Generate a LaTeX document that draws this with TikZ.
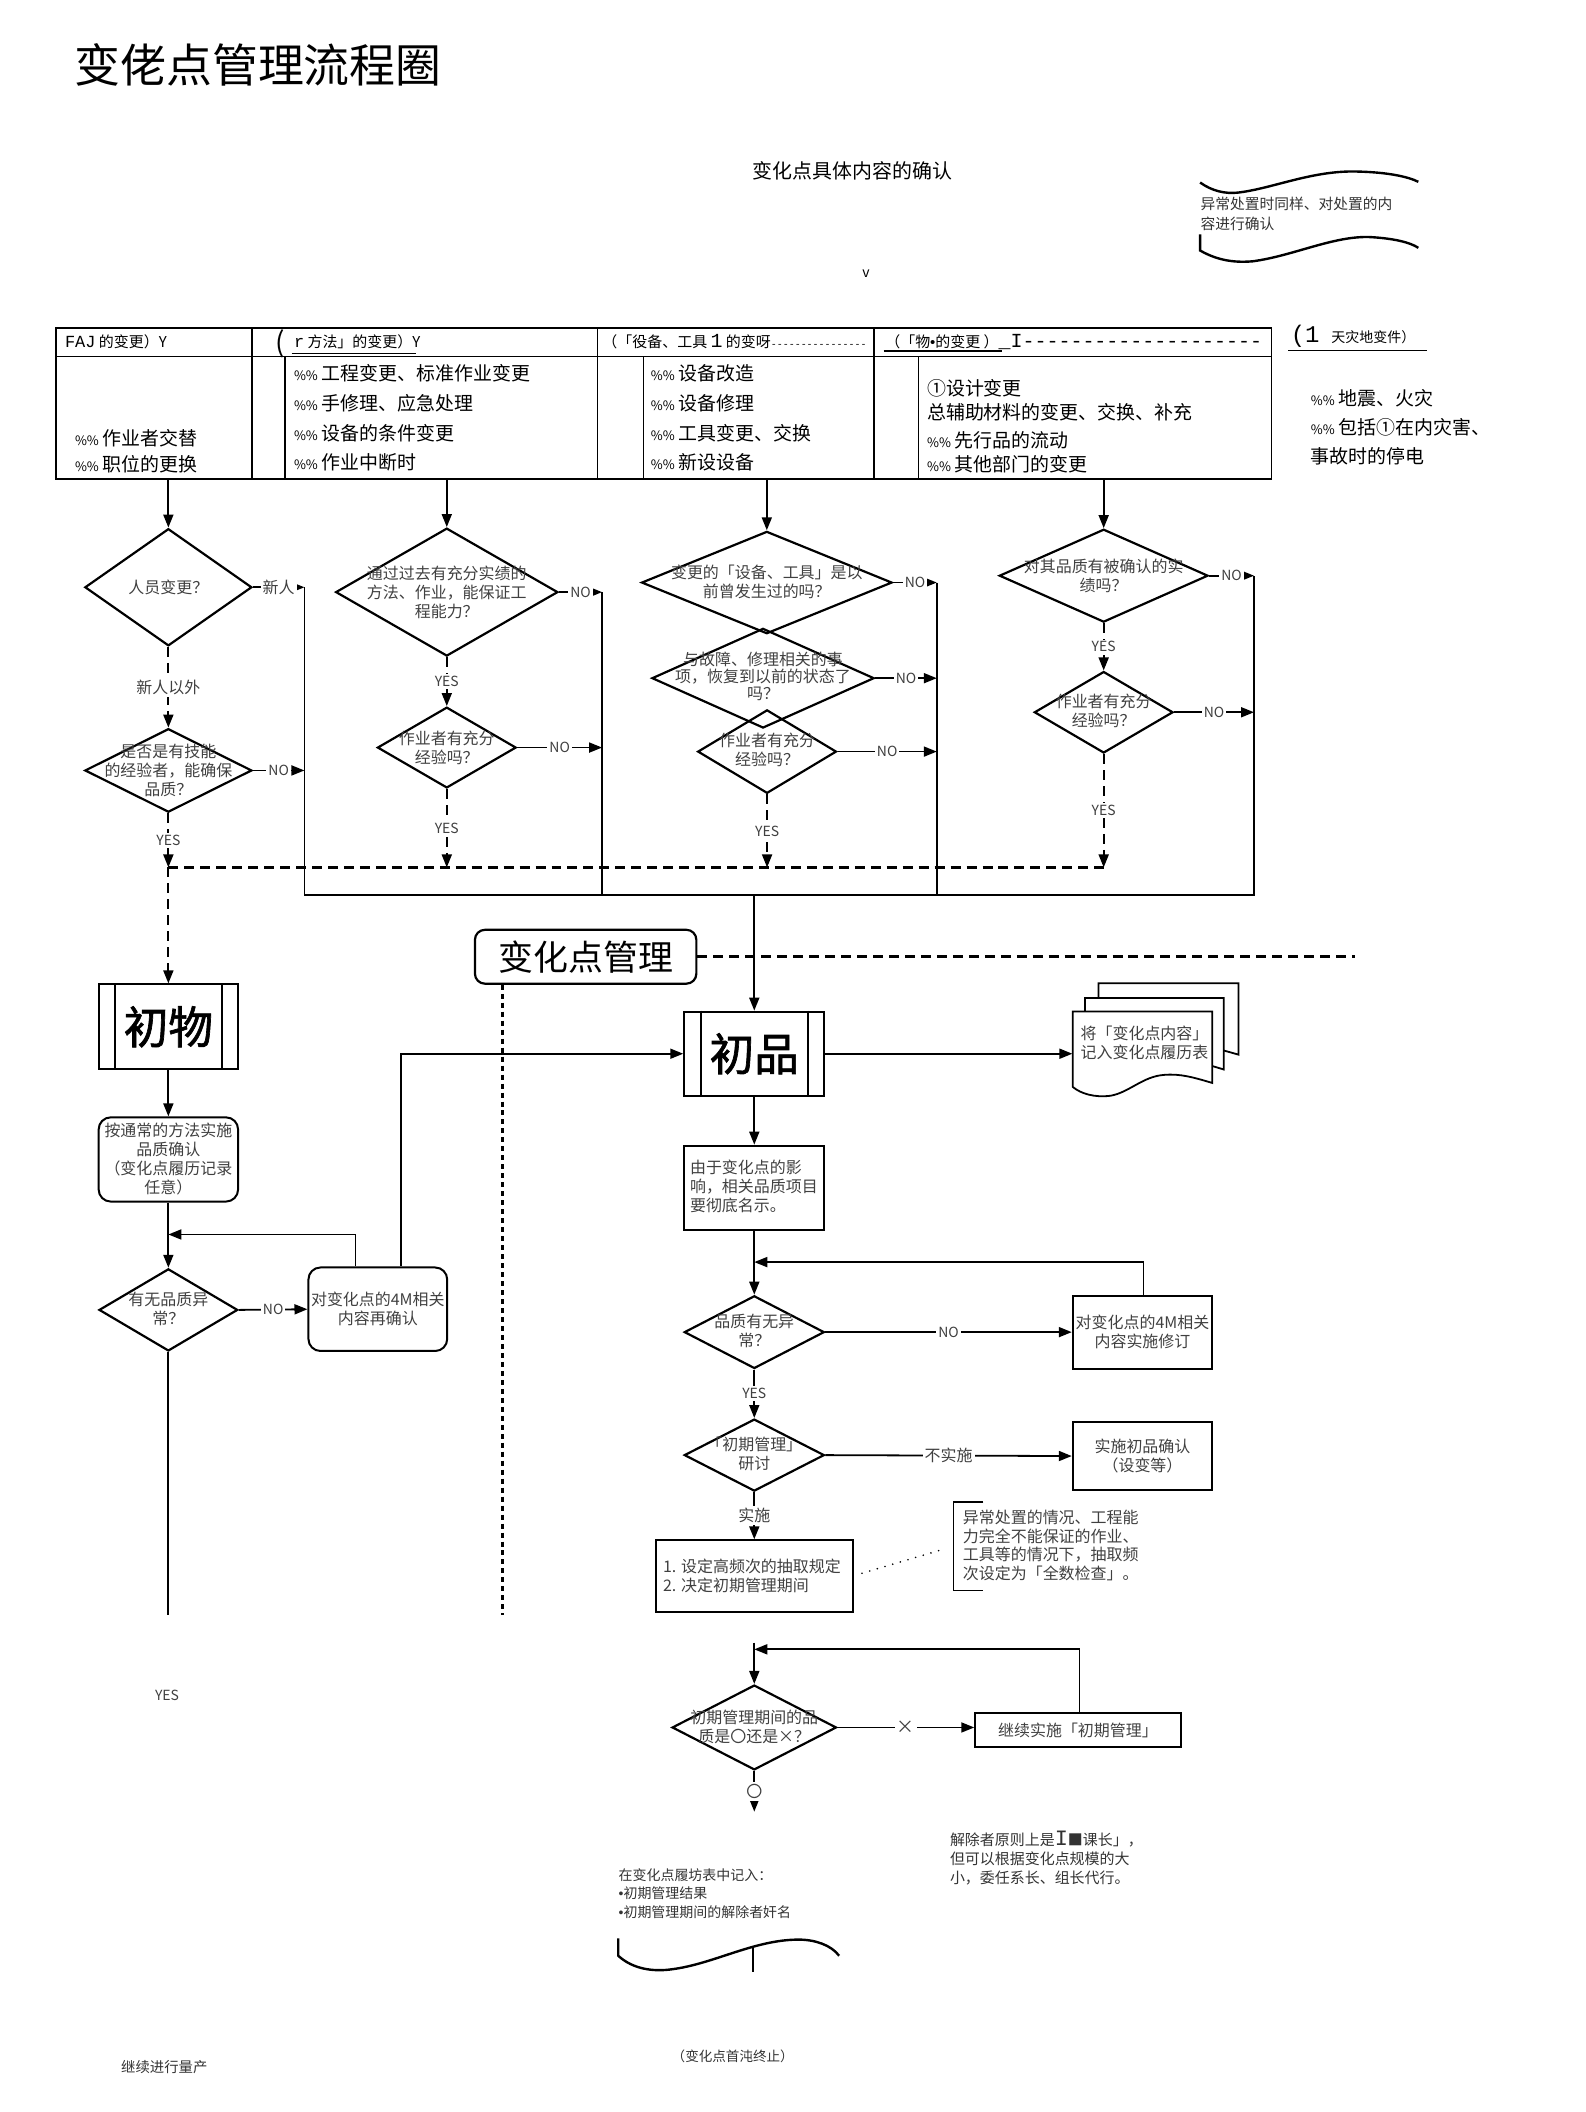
\documentclass[tikz,border=0pt]{standalone}
\usepackage{fontspec}
\setmainfont{Noto Sans CJK SC}
\newfontfamily\monof{Liberation Mono}
\newfontfamily\latinf{Liberation Sans}
\newfontfamily\boldcjk[FakeBold=1.5]{Noto Sans CJK SC}
\usetikzlibrary{shapes.geometric,arrows.meta}
\newcommand\pcts{{\fontsize{6.5}{7}\selectfont\%\%}\hspace{2pt}}
\newcommand\bul{{\latinf •}}
\tikzset{
  arr/.style={-{Triangle[length=6.5pt,width=5pt]}, line width=0.9pt},
  ln/.style={line width=0.9pt},
  tbl/.style={line width=0.8pt},
  dsh/.style={line width=0.9pt, dash pattern=on 5pt off 3pt},
  dia/.style 2 args={draw, diamond, line width=1.1pt, minimum width=#1*0.675pt, minimum height=#2*0.675pt, inner sep=0pt},
  bx/.style 2 args={draw, rectangle, line width=1pt, minimum width=#1*0.675pt, minimum height=#2*0.675pt, inner sep=0pt},
  rbx/.style 2 args={bx={#1}{#2}, rounded corners=6pt},
  dt/.style={font=\fontsize{8}{9.5}\selectfont, align=center, text=black!75, inner sep=0pt},
  dtl/.style={font=\fontsize{8}{9.5}\selectfont, align=left, text=black!75, inner sep=0pt, anchor=west},
  lbl/.style={font=\fontsize{7}{8}\selectfont, fill=white, inner sep=1pt, text=black!75},
  lblc/.style={lbl, font=\fontsize{8}{9}\selectfont},
  body/.style={font=\fontsize{9.5}{11}\selectfont, anchor=west, inner sep=0pt},
  small/.style={font=\fontsize{7.5}{9}\selectfont, anchor=west, inner sep=0pt},
}
\begin{document}
\begin{tikzpicture}[x=0.675pt,y=-0.675pt]
\useasboundingbox (0,0) rectangle (1177,1568);

% ---------- title and top notes
\node[anchor=west, font=\fontsize{23}{26}\selectfont, inner sep=0pt] (title) at (55,48) {变佬点管理流程圈};
\node[font=\fontsize{10}{12}\selectfont, inner sep=0pt] (sub) at (633,127) {变化点具体内容的确认};
\draw[line width=1.2pt] (891,135.5) .. controls (900,142) and (910,144) .. (919,143) .. controls (945,140) and (975,126) .. (1009,127.4) .. controls (1030,128) and (1045,131) .. (1053,135);
\node[anchor=west, font=\fontsize{7.4}{10.1}\selectfont, align=left, inner sep=0pt, text=black!80] (note1) at (891,158.5) {异常处置时同样、对处置的内\\容进行确认};
\draw[line width=1.2pt] (891,174) -- (891,186) .. controls (905,194) and (918,195) .. (930,194) .. controls (960,190) and (990,175) .. (1017,176) .. controls (1035,177) and (1047,180) .. (1053,184);
\node[font=\fontsize{7}{8}\selectfont, inner sep=0pt] (vmark) at (643,203) {v};

% ---------- table
\draw[tbl] (41.5,243.7) rectangle (944,355.7);
\draw[tbl] (41.5,264.7) -- (944,264.7);
\foreach \xx in {187,443.5,649} \draw[tbl] (\xx,243.7) -- (\xx,355.7);
\foreach \xx in {211.5,477.6,682} \draw[tbl] (\xx,264.7) -- (\xx,355.7);
\coordinate (tb) at (0,355.7);

\node[small] (h1) at (48,254) {{\monof\fontsize{8.5}{9}\selectfont FAJ} 的变更）Y};
\node[inner sep=0pt, font=\fontsize{14}{14}\selectfont] (h2p) at (208,255) {(};
\node[small] (h2) at (218,254) {{\monof\fontsize{8.5}{9}\selectfont r} 方法」的变更）Y};
\draw[line width=0.7pt] (216.5,262.5) -- (309,262.5);
\node[small] (h3) at (447,254) {（「役备、工具 {\monof\fontsize{10}{10}\selectfont 1} 的变呀{\monof\fontsize{5}{5}\selectfont ----------------}};
\node[small] (h4) at (657,254) {（「物\bul 的变更 ）{\monof\fontsize{10}{10}\selectfont \_I--------------------}};
\draw[line width=0.7pt] (656,260.5) -- (744,260.5);
\node[small] (h5) at (958,250) {{\monof\fontsize{12}{12}\selectfont (1}\hspace{6pt}{\fontsize{7}{8}\selectfont 天灾地变件）}};
\draw[line width=0.7pt] (956.6,260.3) -- (1059.7,260.3);

\node[body] (b1a) at (55.4,325) {\pcts 作业者交替};
\node[body] (b1b) at (55.4,344.5) {\pcts 职位的更换};
\node[body] (b2a) at (218,277) {\pcts 工程变更、标准作业变更};
\node[body] (b2b) at (218,299.5) {\pcts 手修理、应急处理};
\node[body] (b2c) at (218,322) {\pcts 设备的条件变更};
\node[body] (b2d) at (218,343.5) {\pcts 作业中断时};
\node[body] (b3a) at (483,277) {\pcts 设备改造};
\node[body] (b3b) at (483,299.5) {\pcts 设备修理};
\node[body] (b3c) at (483,322) {\pcts 工具变更、交换};
\node[body] (b3d) at (483,343.5) {\pcts 新设设备};
\node[body] (b4a) at (688,288) {①设计变更};
\node[body] (b4b) at (688,306) {总辅助材料的变更、交换、补充};
\node[body] (b4c) at (688,327) {\pcts 先行品的流动};
\node[body] (b4d) at (688,345) {\pcts 其他部门的变更};
\node[body] (b5a) at (973,296) {\pcts 地震、火灾};
\node[body] (b5b) at (973,317) {\pcts 包括①在内灾害、};
\node[body] (b5c) at (973,339) {事故时的停电};

% ---------- decision diamonds (upper part)
\node[dia={124}{87}] (d1) at (125,436) {};
\node[dt] (d1t) at (d1) {人员变更？};
\node[dia={124}{62}] (d2) at (125,572) {};
\node[dt] (d2t) at (d2) {是否是有技能\\的经验者，能确保\\品质？};
\node[dia={165}{95}] (d3) at (331.7,439.6) {};
\node[dt] (d3t) at (d3) {通过过去有充分实绩的\\方法、作业，能保证工\\程能力？};
\node[dia={103}{60}] (d4) at (331.7,555) {};
\node[dt] (d4t) at (d4) {作业者有充分\\经验吗？};
\node[dia={186}{76}] (d5) at (569.3,432.5) {};
\node[dt] (d5t) at (569.3,431.8) {变更的「设备、工具」是以\\前曾发生过的吗？};
\node[dia={165}{74}] (d6) at (566.5,503.5) {};
\node[dt, font=\fontsize{8}{8.4}\selectfont] (d6t) at (566.5,502) {与故障、修理相关的事\\项，恢复到以前的状态了\\吗？};
\node[dia={103}{62}] (d7) at (569.5,558) {};
\node[dt] (d7t) at (569.5,557) {作业者有充分\\经验吗？};
\node[dia={155}{69}] (d8) at (819.4,427.4) {};
\node[dt] (d8t) at (d8) {对其品质有被确认的实\\绩吗？};
\node[dia={103}{60.5}] (d9) at (819.4,528.8) {};
\node[dt] (d9t) at (819.4,528) {作业者有充分\\经验吗？};

% arrows from table
\draw[arr] (d1.north |- tb) -- (d1.north);
\draw[arr] (d3.north |- tb) -- (d3.north);
\draw[arr] (d5.north |- tb) -- (d5.north);
\draw[arr] (d8.north |- tb) -- (d8.north);

% collector lines
\coordinate (v1t) at (226,436);   \coordinate (v1b) at (226,664.2);
\coordinate (v2t) at (447,439.6); \coordinate (v2b) at (447,664.2);
\coordinate (v3t) at (695.5,432.5); \coordinate (v3b) at (695.5,664.2);
\coordinate (v4t) at (931,427.4); \coordinate (v4b) at (931,664.2);
\coordinate (jn) at (560,664.2);
\draw[ln] (v1t) -- (v1b) -- (v4b) -- (v4t);
\draw[ln] (v2t) -- (v2b);
\draw[ln] (v3t) -- (v3b);

\draw[arr] (d1.east) -- node[lblc]{新人} (d1.east -| v1t);
\draw[arr] (d2.east) -- node[lbl]{NO} (d2.east -| v1t);
\draw[arr] (d3.east) -- node[lbl]{NO} (d3.east -| v2t);
\draw[arr] (d4.east) -- node[lbl]{NO} (d4.east -| v2t);
\draw[arr] (d5.east) -- node[lbl]{NO} (d5.east -| v3t);
\draw[arr] (d6.east) -- node[lbl]{NO} (d6.east -| v3t);
\draw[arr] (d7.east) -- node[lbl]{NO} (d7.east -| v3t);
\draw[arr] (d8.east) -- node[lbl]{NO} (d8.east -| v4t);
\draw[arr] (d9.east) -- node[lbl]{NO} (d9.east -| v4t);

% dashed YES paths
\coordinate (hl) at (125,644);
\coordinate (hr) at (819.4,644);
\draw[dsh, line width=1.2pt] (hl) -- (hr);
\draw[dsh,arr] (d1.south) -- node[lblc]{新人以外} (d2.north);
\draw[dsh,arr] (d2.south) -- node[lbl]{YES} (d2.south |- hl);
\draw[dsh,arr] (d3.south) -- node[lbl]{YES} (d4.north);
\draw[dsh,arr] (d4.south) -- node[lbl]{YES} (d4.south |- hl);
\draw[dsh,arr] (d7.south) -- node[lbl]{YES} (d7.south |- hl);
\draw[dsh,arr] (d8.south) -- node[lbl]{YES} (d9.north);
\draw[dsh,arr] (d9.south) -- node[lbl]{YES} (d9.south |- hl);

% ---------- middle band
\node[rbx={164.4}{40}, rounded corners=5pt, line width=1.1pt] (mgmt) at (434.8,710.3) {\fontsize{17.5}{20}\selectfont 变化点管理};
\coordinate (dhr) at (1006,710.3);
\draw[line width=1.4pt, dash pattern=on 5pt off 3pt] (mgmt.east) -- (dhr);
\coordinate (dv) at (373,1199);
\draw[line width=1.6pt, dash pattern=on 2.5pt off 2pt] (mgmt.south -| dv) -- (dv);

% ---------- left column
\node[bx={103.6}{63}] (b1) at (125,762.3) {\boldcjk\fontsize{22.4}{24}\selectfont 初物};
\draw[line width=1pt] ([xshift=13*0.675pt]b1.north west) -- ([xshift=13*0.675pt]b1.south west);
\draw[line width=1pt] ([xshift=-13*0.675pt]b1.north east) -- ([xshift=-13*0.675pt]b1.south east);
\draw[dsh,arr] (hl) -- (b1.north);
\node[rbx={103.5}{62.5}] (r1) at (125,860.8) {};
\node[dt] (r1t) at (125,860.3) {按通常的方法实施\\品质确认\\（变化点履历记录\\任意）};
\draw[arr] (b1.south) -- (r1.north);
\node[dia={103}{61}] (d10) at (125,972.5) {};
\node[dt] (d10t) at (125,971.8) {有无品质异\\常？};
\draw[arr] (r1.south) -- (d10.north);
\node[rbx={103}{62}] (r2) at (280.5,972) {};
\node[dt] (r2t) at (280.5,971.8) {对变化点的4M相关\\内容再确认};
\draw[arr] (d10.east) -- node[lbl]{NO} (r2.west);
\coordinate (fb1) at (264,916.5);
\draw[arr] (r2.north -| fb1) -- (fb1) -- (fb1 -| d10.north);
\coordinate (c1end) at (125,1199);
\draw[ln] (d10.south) -- (c1end);
\node[font=\fontsize{7}{8}\selectfont, text=black!75] (yesl) at (124,1258.4) {YES};
\node[font=\fontsize{7.2}{8}\selectfont, text=black!80] (cont) at (122,1535) {继续进行量产};

% ---------- right column
\node[bx={104}{62.5}] (p1) at (560,782.3) {\boldcjk\fontsize{22.4}{24}\selectfont 初品};
\draw[line width=1pt] ([xshift=13*0.675pt]p1.north west) -- ([xshift=13*0.675pt]p1.south west);
\draw[line width=1pt] ([xshift=-13*0.675pt]p1.north east) -- ([xshift=-13*0.675pt]p1.south east);
\draw[arr] (jn) -- (p1.north);
\coordinate (fb2) at (298,782.3);
\draw[arr] (r2.north -| fb2) -- (fb2) -- (p1.west);

% multi document
\begin{scope}[shift={(815.5,730)}]
\path[draw, fill=white, line width=0.9pt] (0,56) -- (0,0) -- (104,0) -- (104,53) .. controls (90,49) and (80,46) .. (68,47) .. controls (52,48) and (42,60) .. (28,62.5) .. controls (16,64) and (6,61) .. (0,56) -- cycle;
\end{scope}
\begin{scope}[shift={(805.5,741)}]
\path[draw, fill=white, line width=0.9pt] (0,56) -- (0,0) -- (103,0) -- (103,53) .. controls (90,49) and (80,46) .. (68,47) .. controls (52,48) and (42,60) .. (28,62.5) .. controls (16,64) and (6,61) .. (0,56) -- cycle;
\end{scope}
\begin{scope}[shift={(796.5,751)}]
\path[draw, fill=white, line width=0.9pt] (0,56) -- (0,0) -- (103.5,0) -- (103.5,53) .. controls (90,49) and (80,46) .. (68,47) .. controls (52,48) and (42,60) .. (28,62.5) .. controls (16,64) and (6,61) .. (0,56) -- cycle;
\end{scope}
\node[minimum width=103.5*0.675pt, minimum height=62*0.675pt, inner sep=0pt] (doc) at (848.2,782.3) {};
\node[dtl] (doct) at (802,774) {将「变化点内容」\\记入变化点履历表};
\draw[arr] (p1.east) -- (doc.west);

\node[bx={104}{62.5}] (t1) at (560,881.8) {};
\node[dtl] (t1t) at (512,880.5) {由于变化点的影\\响，相关品质项目\\要彻底名示。};
\draw[arr] (p1.south) -- (t1.north);

\node[dia={104}{54}] (d11) at (560,989) {};
\node[dt] (d11t) at (560,988.3) {品质有无异\\常？};
\draw[arr] (t1.south) -- (d11.north);
\node[bx={103.5}{54.3}] (r3) at (848.2,989) {};
\node[dt] (r3t) at (848.2,988.5) {对变化点的4M相关\\内容实施修订};
\draw[arr] (d11.east) -- node[lbl]{NO} (r3.west);
\coordinate (fb3) at (849,937);
\draw[arr] (r3.north -| fb3) -- (fb3) -- (fb3 -| t1.south);

\node[dia={104}{53.5}] (d12) at (560,1080.3) {};
\node[dt] (d12t) at (560,1079.5) {「初期管理」\\研讨};
\draw[arr] (d11.south) -- node[lbl]{YES} (d12.north);
\node[bx={103.5}{50}] (r4) at (848.2,1081) {};
\node[dt] (r4t) at (848.2,1081) {实施初品确认\\（设变等）};
\draw[arr] (d12.east) -- node[lblc]{不实施} (r4.west);

\node[bx={146}{53.5}] (t2) at (560,1170.3) {};
\node[dtl] (t2t) at (492,1170) {1. 设定高频次的抽取规定\\2. 决定初期管理期间};
\draw[arr] (d12.south) -- node[lblc]{实施} (t2.north);

\coordinate (dots0) at (640,1168);
\coordinate (br) at (701,1150);
\draw[line width=0.9pt, line cap=round, dash pattern=on 0pt off 4pt] (dots0) -- (br);
\draw[line width=0.7pt] (730,1115) -- (708,1115) -- (708,1181) -- (730,1181);
\node[dtl, font=\fontsize{8}{9.3}\selectfont] (brt) at (714.6,1147.5) {异常处置的情况、工程能\\力完全不能保证的作业、\\工具等的情况下，抽取频\\次设定为「全数检查」。};

\node[dia={122}{63}] (d13) at (560,1282.5) {};
\node[dt] (d13t) at (560,1282) {初期管理期间的品\\质是〇还是×？};
\coordinate (c2top) at (560,1219.5);
\draw[arr] (c2top) -- (d13.north);
\node[bx={152.5}{25}] (r5) at (800.3,1284.5) {};
\node[dt] (r5t) at (r5) {继续实施「初期管理」};
\draw[arr] (d13.east) -- node[lbl, font=\fontsize{9}{10}\selectfont]{×} (d13.east -| r5.west);
\coordinate (fb4) at (801.5,1224.5);
\draw[arr] (r5.north -| fb4) -- (fb4) -- (fb4 -| d13.north);
\coordinate (c2end) at (560,1345);
\draw[arr] (d13.south) -- node[lbl, font=\fontsize{8}{9}\selectfont]{〇} (c2end);

% ---------- bottom notes
\node[anchor=west, font=\fontsize{7.5}{9.4}\selectfont, align=left, inner sep=0pt, text=black!80] (n2) at (705,1379.6) {解除者原则上是{\monof\fontsize{11}{11}\selectfont I}■课长」，\\但可以根据变化点规模的大\\小，委任系长、组长代行。};
\node[anchor=west, font=\fontsize{7}{9.2}\selectfont, align=left, inner sep=0pt, text=black!80] (n3) at (459,1405.7) {在变化点履坊表中记入：\\\bul 初期管理结果\\\bul 初期管理期间的解除者奸名};
\draw[line width=1.2pt] (459,1439) -- (459,1452) .. controls (470,1462) and (485,1464) .. (499,1462) .. controls (530,1458) and (560,1440) .. (593,1440) .. controls (605,1440) and (617,1444) .. (623,1452);
\draw[line width=0.8pt] (559,1445) -- (559,1464);
\node[font=\fontsize{6.8}{8}\selectfont, text=black!80] (n4) at (544,1526.6) {（变化点首沌终止）};
\end{tikzpicture}
\end{document}
